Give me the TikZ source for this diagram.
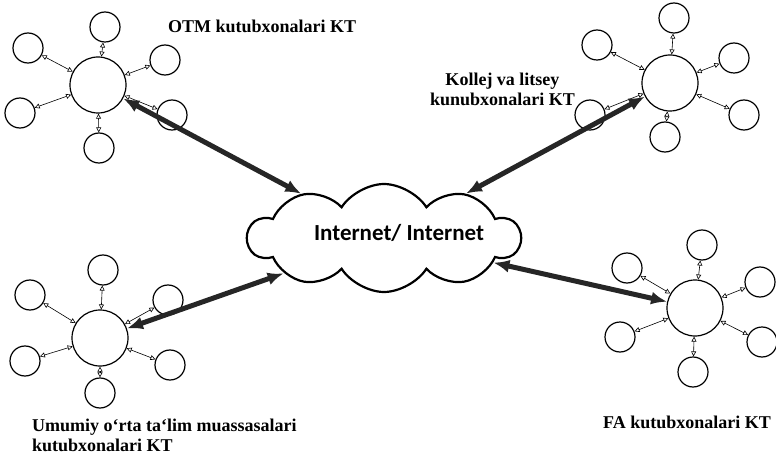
\documentclass[tikz,border=0pt]{standalone}
\usepackage{fontspec}
\setmainfont{Liberation Serif}
\newfontfamily\netfont{Carlito}
\usetikzlibrary{shapes.symbols,arrows.meta}

\begin{document}
\begin{tikzpicture}[x=1pt, y=-1pt,
    hub/.style={circle, draw, line width=1.2pt, minimum size=56pt, inner sep=0pt},
    sat/.style={circle, draw, line width=1.2pt, minimum size=30pt, inner sep=0pt},
    link/.style={{Triangle[open,length=5pt,width=5pt]}-{Triangle[open,length=5pt,width=5pt]}, semithick},
    bigarrow/.style={{Latex[length=16pt,width=13pt]}-{Latex[length=16pt,width=13pt]}, line width=5pt, black!85},
    kt/.style={font=\bfseries\fontsize{18}{20}\selectfont, inner sep=0pt}]

\useasboundingbox (0,0) rectangle (776,457);

\node[cloud, draw, line width=2.2pt, cloud puffs=10, cloud puff arc=115, aspect=2.5,
      minimum width=272pt, minimum height=108pt, inner sep=0pt] (net) at (384,238) {};
\node[font=\netfont\bfseries\fontsize{23}{27}\selectfont] (nettext) at (399,233) {Internet/ Internet};

\node[hub] (h1) at (98,85) {};
\foreach \i/\dx/\dy in {1/7/-58, 2/-70/-37, 3/67/-25, 4/-78/28, 5/1/63, 6/74/30}{
    \node[sat] (h1s\i) at ([shift={(\dx,\dy)}]h1) {};
    \draw[link] (h1) -- (h1s\i);
}

\node[hub] (h2) at (670,83) {};
\foreach \i/\dx/\dy in {1/4/-65, 2/-73/-38, 3/64/-25, 4/-80/32, 5/-5/54, 6/74/32}{
    \node[sat] (h2s\i) at ([shift={(\dx,\dy)}]h2) {};
    \draw[link] (h2) -- (h2s\i);
}

\node[hub] (h3) at (100,338) {};
\foreach \i/\dx/\dy in {1/3/-68, 2/-70/-43, 3/68/-38, 4/-75/23, 5/0/55, 6/70/27}{
    \node[sat] (h3s\i) at ([shift={(\dx,\dy)}]h3) {};
    \draw[link] (h3) -- (h3s\i);
}

\node[hub] (h4) at (695,308) {};
\foreach \i/\dx/\dy in {1/7/-63, 2/-68/-40, 3/65/-26, 4/-75/29, 5/-2/64, 6/67/34}{
    \node[sat] (h4s\i) at ([shift={(\dx,\dy)}]h4) {};
    \draw[link] (h4) -- (h4s\i);
}

\draw[bigarrow] (net) -- (h1);
\draw[bigarrow] (net) -- (h2);
\draw[bigarrow] (net) -- (h3);
\draw[bigarrow] (net) -- (h4);

\node[kt, anchor=base west] (otm) at (168,33) {OTM kutubxonalari KT};
\node[kt, anchor=base west, align=center] (kollej) at (430,106) {Kollej va litsey\\kunubxonalari KT};
\node[kt, anchor=base west, align=left] (umumiy) at (32,451) {Umumiy o`rta ta`lim muassasalari\\kutubxonalari KT};
\node[kt, anchor=base west] (fa) at (603,428) {FA kutubxonalari KT};
\end{tikzpicture}
\end{document}
